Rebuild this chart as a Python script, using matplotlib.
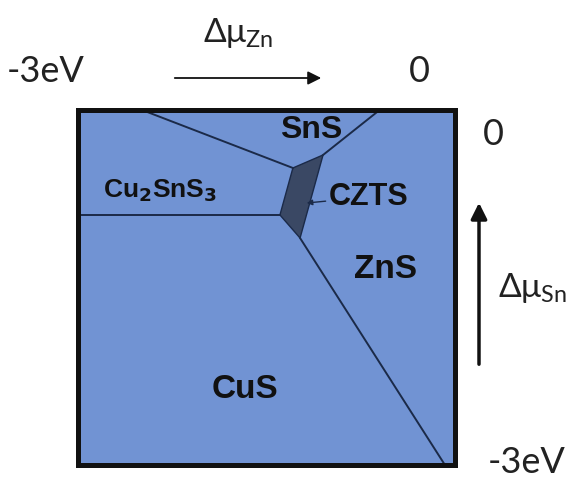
import matplotlib
matplotlib.use("Agg")
import matplotlib.pyplot as plt
from matplotlib.patches import Polygon, FancyArrowPatch

# chemical potential window (eV)
mu_min, mu_max = -3.0, 0.0

# phase boundaries: (d_mu_Zn, d_mu_Sn)
sns_cu2sns3 = [(-2.49, 0.0), (-1.29, -0.49)]
sns_zns = [(-0.60, 0.0), (-1.05, -0.38)]
cu2sns3_cus = [(-3.0, -0.887), (-1.393, -0.887)]
zns_cus = [(-1.233, -1.082), (-0.08, -3.0)]
czts_region = [(-1.29, -0.49), (-1.05, -0.38), (-1.233, -1.082), (-1.393, -0.887)]

# phase labels and where they sit
phase_names = ["SnS", r"Cu$_\mathbf{2}$SnS$_\mathbf{3}$", "ZnS", "CuS"]
phase_x = [-1.146, -2.35, -0.557, -1.671]
phase_y = [-0.17, -0.68, -1.352, -2.366]
phase_size = [23, 19, 24, 24]

fill_col = "#7193d3"
line_col = "#1b2a48"
czts_col = "#3a4864"

W, H = 579, 479
fig = plt.figure(figsize=(W / 100, H / 100), dpi=100)
fig.patch.set_facecolor("white")

# box in pixels: left 78, right 455, top 110, bottom 465
ax = fig.add_axes([78 / W, 1 - 465 / H, 377 / W, 355 / H])
ax.set_xlim(mu_min, mu_max)
ax.set_ylim(mu_min, mu_max)
ax.set_facecolor(fill_col)
ax.set_xticks([])
ax.set_yticks([])
for s in ax.spines.values():
    s.set_linewidth(3.6)
    s.set_color("#111111")

for seg in [sns_cu2sns3, sns_zns, cu2sns3_cus, zns_cus]:
    xs, ys = zip(*seg)
    ax.plot(xs, ys, color=line_col, lw=1.4)

ax.add_patch(Polygon(czts_region, closed=True, facecolor=czts_col,
                     edgecolor=line_col, lw=1.0))

for name, x, y, fs in zip(phase_names, phase_x, phase_y, phase_size):
    ax.text(x, y, name, ha="center", va="center", fontsize=fs,
            fontweight="bold", family="Liberation Sans", color="#111111")

ax.annotate("CZTS", xy=(-1.18, -0.786), xytext=(-0.69, -0.735),
            ha="center", va="center", fontsize=22, fontweight="bold",
            family="Liberation Sans", color="#111111",
            arrowprops=dict(arrowstyle="-|>", color=line_col, lw=1.0,
                            mutation_scale=8, shrinkA=30, shrinkB=0))


def fx(px):
    return px / W


def fy(py):
    return 1 - py / H


lab = dict(family="Lato", color="#222222")
fig.text(fx(46), fy(82), "-3eV", ha="center", va="baseline", fontsize=26, **lab)
fig.text(fx(419), fy(82), "0", ha="center", va="baseline", fontsize=26, **lab)
fig.text(fx(493), fy(145), "0", ha="center", va="baseline", fontsize=26, **lab)
fig.text(fx(527), fy(473), "-3eV", ha="center", va="baseline", fontsize=26, **lab)
fig.text(fx(203), fy(42), r"$\mathregular{\Delta\mu_{Zn}}$", ha="left",
         va="baseline", fontsize=24, **lab)
fig.text(fx(498), fy(297), r"$\mathregular{\Delta\mu_{Sn}}$", ha="left",
         va="baseline", fontsize=24, **lab)

fig.add_artist(FancyArrowPatch(
    (fx(172), fy(78)), (fx(324), fy(78)), transform=fig.transFigure,
    arrowstyle="-|>", mutation_scale=20, color="#111111", lw=1.3))
fig.add_artist(FancyArrowPatch(
    (fx(479), fy(367)), (fx(479), fy(200)), transform=fig.transFigure,
    arrowstyle="-|>", mutation_scale=24, color="#111111", lw=2.5))

fig.savefig("out.png", dpi=100)
